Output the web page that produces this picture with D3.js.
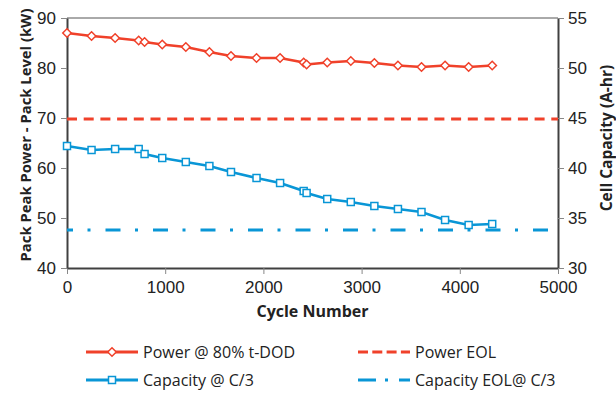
<!DOCTYPE html>
<html>
<head>
<meta charset="utf-8">
<script src="https://cdn.jsdelivr.net/npm/d3@7"></script>
<style>
  html, body { margin: 0; padding: 0; background: #fff; }
  svg { display: block; font-family: "Open Sans", "Noto Sans", sans-serif; }
</style>
</head>
<body>
<div id="chart"></div>
<script>
const cycles = [0, 250, 490, 730, 790, 970, 1210, 1450, 1670, 1930, 2170, 2410, 2440, 2650, 2890, 3130, 3370, 3610, 3850, 4090, 4330];
const power = [87.0, 86.4, 86.0, 85.5, 85.2, 84.7, 84.2, 83.2, 82.4, 82.0, 82.0, 81.1, 80.7, 81.1, 81.4, 81.0, 80.5, 80.2, 80.5, 80.2, 80.5];
const capacity = [42.2, 41.8, 41.9, 41.9, 41.4, 41.0, 40.6, 40.2, 39.6, 39.0, 38.5, 37.7, 37.5, 36.9, 36.6, 36.2, 35.9, 35.6, 34.8, 34.3, 34.4];
const powerEOL = 69.8;      // kW
const capacityEOL = 33.8;   // A-hr

const xTicks = [0, 1000, 2000, 3000, 4000, 5000];
const yLeftTicks = [40, 50, 60, 70, 80, 90];
const yRightTicks = [30, 35, 40, 45, 50, 55];

const legendItems = [
    {label: "Power @ 80% t-DOD", kind: "power"},
    {label: "Power EOL", kind: "powerEOL"},
    {label: "Capacity @ C/3", kind: "capacity"},
    {label: "Capacity EOL@ C/3", kind: "capacityEOL"}
];

const W = 616, H = 393;
const M = {top: 18, right: 58, bottom: 125, left: 67};
const RED = "#f0412a";
const BLUE = "#0996d6";
const AXIS = "#404040";

const svg = d3.select("#chart").append("svg")
    .attr("width", W)
    .attr("height", H);

const x = d3.scaleLinear().domain([0, 5000]).range([M.left, W - M.right]);
const yL = d3.scaleLinear().domain([40, 90]).range([H - M.bottom, M.top]);
const yR = d3.scaleLinear().domain([30, 55]).range([H - M.bottom, M.top]);

// frame top line
svg.append("line")
    .attr("x1", x(0)).attr("x2", x(5000))
    .attr("y1", yL(90)).attr("y2", yL(90))
    .attr("stroke", "#555").attr("stroke-width", 1);

function styleAxis(g) {
    g.selectAll("path").attr("stroke", AXIS).attr("stroke-width", 2);
    g.selectAll("line").attr("stroke", "#888").attr("stroke-width", 1);
    g.selectAll("text").attr("fill", "#222").style("font-size", "17px");
}

svg.append("g")
    .attr("transform", `translate(0, ${yL(40)})`)
    .call(d3.axisBottom(x).tickValues(xTicks).tickFormat(d3.format("d"))
        .tickSize(6).tickSizeOuter(0).tickPadding(7))
    .call(styleAxis);

svg.append("g")
    .attr("transform", `translate(${x(0)}, 0)`)
    .call(d3.axisLeft(yL).tickValues(yLeftTicks).tickSize(6).tickSizeOuter(0).tickPadding(5))
    .call(styleAxis);

svg.append("g")
    .attr("transform", `translate(${x(5000)}, 0)`)
    .call(d3.axisRight(yR).tickValues(yRightTicks).tickSize(6).tickSizeOuter(0).tickPadding(4))
    .call(styleAxis);

// axis titles
svg.append("text")
    .attr("x", (x(0) + x(5000)) / 2)
    .attr("y", 317)
    .attr("text-anchor", "middle")
    .attr("font-weight", "bold")
    .style("font-size", "16px")
    .attr("fill", "#222")
    .text("Cycle Number");

svg.append("text")
    .attr("transform", `translate(31, ${(yL(40) + yL(90)) / 2 - 8}) rotate(-90)`)
    .attr("text-anchor", "middle")
    .attr("font-weight", "bold")
    .style("font-size", "14.8px")
    .attr("fill", "#222")
    .text("Pack Peak Power - Pack Level (kW)");

svg.append("text")
    .attr("transform", `translate(612, ${(yL(40) + yL(90)) / 2 - 5}) rotate(-90)`)
    .attr("text-anchor", "middle")
    .attr("font-weight", "bold")
    .style("font-size", "15.5px")
    .attr("fill", "#222")
    .text("Cell Capacity (A-hr)");

// EOL reference lines
svg.append("line")
    .attr("x1", x(0)).attr("x2", x(5000))
    .attr("y1", yL(powerEOL)).attr("y2", yL(powerEOL))
    .attr("stroke", RED).attr("stroke-width", 3)
    .attr("stroke-dasharray", "10 6.7");

svg.append("line")
    .attr("x1", x(0)).attr("x2", x(5000))
    .attr("y1", yR(capacityEOL)).attr("y2", yR(capacityEOL))
    .attr("stroke", BLUE).attr("stroke-width", 3)
    .attr("stroke-dasharray", "15 14.5 3 15")
    .attr("stroke-dashoffset", 9);

// data series
const powerData = cycles.map((c, i) => [c, power[i]]);
const capData = cycles.map((c, i) => [c, capacity[i]]);

const linePower = d3.line().x(d => x(d[0])).y(d => yL(d[1]));
const lineCap = d3.line().x(d => x(d[0])).y(d => yR(d[1]));

svg.append("path")
    .datum(capData)
    .attr("fill", "none")
    .attr("stroke", BLUE)
    .attr("stroke-width", 2.5)
    .attr("d", lineCap);

svg.selectAll(".cap-pt")
    .data(capData)
    .enter().append("rect")
    .attr("class", "cap-pt")
    .attr("x", d => x(d[0]) - 3.5)
    .attr("y", d => yR(d[1]) - 3.5)
    .attr("width", 7).attr("height", 7)
    .attr("fill", "#fff")
    .attr("stroke", BLUE)
    .attr("stroke-width", 1.5);

svg.append("path")
    .datum(powerData)
    .attr("fill", "none")
    .attr("stroke", RED)
    .attr("stroke-width", 2.5)
    .attr("d", linePower);

const diamond = d3.symbol().type(d3.symbolDiamond2).size(46);

svg.selectAll(".pow-pt")
    .data(powerData)
    .enter().append("path")
    .attr("class", "pow-pt")
    .attr("transform", d => `translate(${x(d[0])}, ${yL(d[1])})`)
    .attr("d", diamond)
    .attr("fill", "#fff")
    .attr("stroke", RED)
    .attr("stroke-width", 1.5);

// legend
const legendPos = [
    {lx: 86, ly: 352},
    {lx: 358, ly: 352},
    {lx: 86, ly: 380},
    {lx: 358, ly: 380}
];

const legend = svg.append("g");
legendItems.forEach((item, i) => {
    const p = legendPos[i];
    const g = legend.append("g").attr("transform", `translate(${p.lx}, ${p.ly})`);
    const color = item.kind.startsWith("power") ? RED : BLUE;
    const ln = g.append("line")
        .attr("x1", 0).attr("x2", 52)
        .attr("y1", 0).attr("y2", 0)
        .attr("stroke", color)
        .attr("stroke-width", 3);
    if (item.kind === "powerEOL") ln.attr("stroke-dasharray", "10 4.3");
    if (item.kind === "capacityEOL") ln.attr("stroke-dasharray", "18 9 3 11");
    if (item.kind === "power") {
        g.append("path")
            .attr("transform", "translate(26, 0)")
            .attr("d", diamond)
            .attr("fill", "#fff").attr("stroke", RED).attr("stroke-width", 1.5);
    }
    if (item.kind === "capacity") {
        g.append("rect")
            .attr("x", 22.5).attr("y", -3.5)
            .attr("width", 7).attr("height", 7)
            .attr("fill", "#fff").attr("stroke", BLUE).attr("stroke-width", 1.5);
    }
    g.append("text")
        .attr("x", 57)
        .attr("y", 5.5)
        .style("font-size", "16px")
        .attr("fill", "#222")
        .text(item.label);
});
</script>
</body>
</html>
